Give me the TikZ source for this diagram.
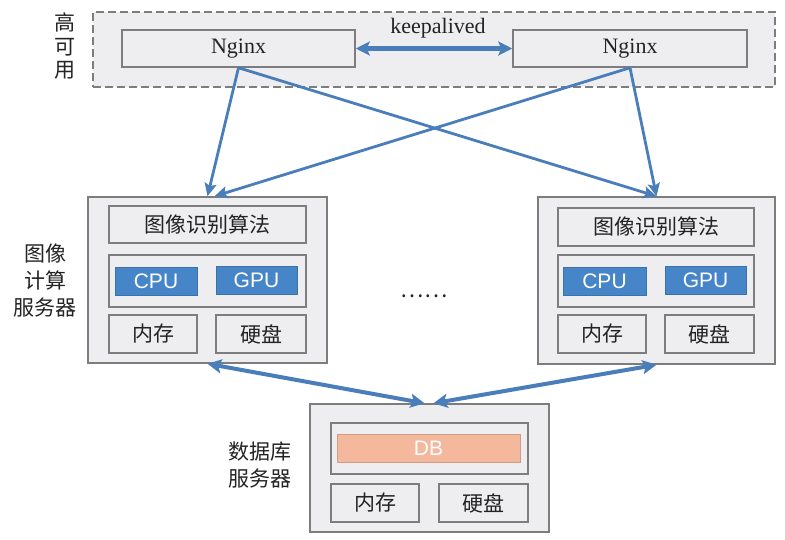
\documentclass[tikz,border=0pt]{standalone}
\usepackage{fontspec}
\setmainfont{Liberation Serif}
\newfontfamily\cjk{Noto Sans CJK SC}
\newfontfamily\sanf{Liberation Sans}
\usetikzlibrary{arrows.meta}
\definecolor{boxfill}{RGB}{238,238,240}
\definecolor{boxline}{RGB}{125,125,125}
\definecolor{linkblue}{RGB}{74,126,187}
\definecolor{chipblue}{RGB}{70,134,200}
\definecolor{dbfill}{RGB}{244,184,156}
\definecolor{txt}{RGB}{35,35,35}
\newcommand\zhfont{\cjk\fontsize{21}{24}\selectfont}
\newcommand\enfont{\fontsize{22}{24}\selectfont}
\newcommand\chipfont{\sanf\fontsize{21}{22}\selectfont}

\begin{document}
\begin{tikzpicture}[x=1pt,y=-1pt,
  box/.style={draw=boxline,fill=boxfill,line width=1.5pt,inner sep=0pt,text=txt},
  chip/.style={draw=chipblue!85!black,line width=0.8pt,fill=chipblue,inner sep=0pt,
    text=white,font=\chipfont,minimum height=28pt},
  link/.style={draw=linkblue,line width=2.8pt,-{Stealth[length=13pt,width=12pt,inset=2.5pt]}},
  dblink/.style={draw=linkblue,line width=4pt,
    {Stealth[length=14pt,width=14pt,inset=3pt]}-{Stealth[length=14pt,width=14pt,inset=3pt]}},
  tag/.style={align=center,text=txt,inner sep=0pt}]
\useasboundingbox (0,0) rectangle (785,539);

% high availability group
\node[box,dashed,dash pattern=on 8pt off 4pt,line width=1.6pt,minimum width=682pt,minimum height=75pt] (ha) at (434,49.5) {};
\node[tag,font=\cjk\fontsize{21}{23.5}\selectfont] (halabel) at (65,46.5) {高\\可\\用};
\node[box,font=\enfont,minimum width=233pt,minimum height=37pt] (nginxL) at (238.5,48.5) {Nginx};
\node[box,font=\enfont,minimum width=234pt,minimum height=37pt] (nginxR) at (630,48.5) {Nginx};
\node[tag,font=\enfont] (keep) at (438,28) {keepalived};
\draw[dblink,line width=5pt] (nginxL.east) -- (nginxR.west);

% left compute server
\node[box,minimum width=239pt,minimum height=166pt] (srvL) at (207.5,280) {};
\node[box,font=\zhfont,minimum width=197pt,minimum height=37pt] (algoL) at (207.5,224.5) {图像识别算法};
\node[box,minimum width=197pt,minimum height=52pt] (hwL) at (207.5,281) {};
\node[chip,minimum width=82pt] (cpuL) at (156,281) {CPU};
\node[chip,minimum width=81pt] (gpuL) at (256.5,280) {GPU};
\node[box,font=\zhfont,minimum width=88pt,minimum height=38pt] (memL) at (153,334) {内存};
\node[box,font=\zhfont,minimum width=90pt,minimum height=38pt] (diskL) at (261,334) {硬盘};
\node[tag,font=\cjk\fontsize{21}{27}\selectfont] (srvlabel) at (45,281) {图像\\计算\\服务器};

% right compute server
\node[box,minimum width=237pt,minimum height=167pt] (srvR) at (656.5,280.5) {};
\node[box,font=\zhfont,minimum width=196pt,minimum height=38pt] (algoR) at (656,227) {图像识别算法};
\node[box,minimum width=196pt,minimum height=52pt] (hwR) at (656,281) {};
\node[chip,minimum width=83pt] (cpuR) at (604.5,281) {CPU};
\node[chip,minimum width=81pt] (gpuR) at (705.5,280) {GPU};
\node[box,font=\zhfont,minimum width=88pt,minimum height=38pt] (memR) at (602,334) {内存};
\node[box,font=\zhfont,minimum width=89pt,minimum height=38pt] (diskR) at (709.5,334) {硬盘};

\node[tag,font=\cjk\fontsize{22}{22}\selectfont] (dots) at (424,296) {……};

% database server
\node[box,minimum width=239pt,minimum height=128pt] (db) at (429.5,468) {};
\node[box,minimum width=197pt,minimum height=51pt] (dbhw) at (429.5,448.5) {};
\node[draw=dbfill!85!black,line width=0.8pt,fill=dbfill,inner sep=0pt,text=white,font=\chipfont,
  minimum width=183pt,minimum height=28pt] (dbcore) at (428.5,448) {DB};
\node[box,font=\zhfont,minimum width=88pt,minimum height=38pt] (dbmem) at (375,503) {内存};
\node[box,font=\zhfont,minimum width=89pt,minimum height=38pt] (dbdisk) at (483.5,503) {硬盘};
\node[tag,font=\cjk\fontsize{21}{27}\selectfont] (dblabel) at (260,465.5) {数据库\\服务器};

% load balancing links
\draw[link] (nginxL.south) -- (srvL.north);
\draw[link] (nginxL.south) -- (srvR.north);
\draw[link] (nginxR.south) -- ([xshift=7pt]srvL.north);
\draw[link] (nginxR.south) -- (srvR.north);

% database links
\draw[dblink] (srvL.south) -- ([xshift=-5pt]db.north);
\draw[dblink] (srvR.south) -- ([xshift=4pt]db.north);
\end{tikzpicture}
\end{document}
